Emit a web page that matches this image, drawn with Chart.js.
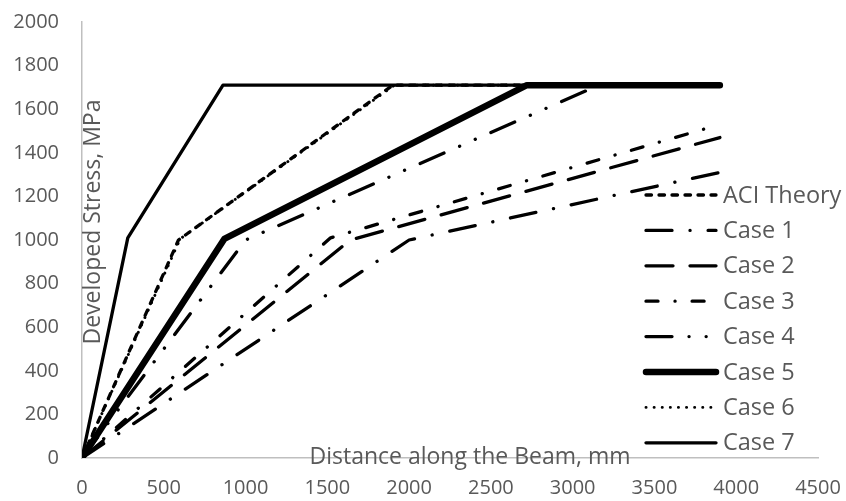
<!DOCTYPE html>
<html>
<head>
<meta charset="utf-8">
<script src="https://cdn.jsdelivr.net/npm/chart.js@4.4.0/dist/chart.umd.min.js"></script>
<style>
html,body{margin:0;padding:0;background:#fff;}
#wrap{width:846px;height:501px;position:relative;}
</style>
</head>
<body>
<div id="wrap"><canvas id="c" width="846" height="501"></canvas></div>
<script>
// ---- data ----
const seriesNames = ['ACI Theory', 'Case 1', 'Case 2', 'Case 3', 'Case 4', 'Case 5', 'Case 6', 'Case 7'];
const aciX   = [0, 590, 1900, 3900];
const aciY   = [0, 1000, 1710, 1710];
const case1X = [0, 2000, 3900];
const case1Y = [0, 1000, 1310];
const case2X = [0, 1640, 3900];
const case2Y = [0, 1000, 1470];
const case3X = [0, 1520, 3900];
const case3Y = [0, 1010, 1530];
const case4X = [0, 1000, 3160, 3900];
const case4Y = [0, 1000, 1710, 1710];
const case5X = [0, 870, 2720, 3900];
const case5Y = [0, 1005, 1710, 1710];
const case6X = [0, 600, 1910, 3900];
const case6Y = [0, 1005, 1710, 1710];
const case7X = [0, 280, 862, 3900];
const case7Y = [0, 1010, 1710, 1710];
const xTicks = [0, 500, 1000, 1500, 2000, 2500, 3000, 3500, 4000, 4500];
const yTicks = [0, 200, 400, 600, 800, 1000, 1200, 1400, 1600, 1800, 2000];
const xTitle = 'Distance along the Beam, mm';
const yTitle = 'Developed Stress, MPa';

// ---- styles ----
const seriesX = [aciX, case1X, case2X, case3X, case4X, case5X, case6X, case7X];
const seriesY = [aciY, case1Y, case2Y, case3Y, case4Y, case5Y, case6Y, case7Y];
const widths = [3.3, 3.3, 3.3, 3.3, 3.3, 6.5, 2.9, 3.3];
const dashes = [
  [5.5, 7.5],
  [26, 18, 0.1, 18],
  [27, 17],
  [12, 17, 0.1, 17],
  [26, 17, 0.1, 17, 0.1, 17],
  [],
  [0.1, 8],
  []
];

const toPts = (xs, ys) => xs.map((x, i) => ({x: x, y: ys[i]}));

const datasets = seriesNames.map((name, i) => ({
  label: name,
  data: toPts(seriesX[i], seriesY[i]),
  borderColor: '#000000',
  backgroundColor: '#000000',
  borderWidth: widths[i],
  borderDash: dashes[i],
  borderCapStyle: 'round',
  borderJoinStyle: 'round',
  pointRadius: 0,
  fill: false,
  tension: 0,
  showLine: true
}));

const TEXT = '#595959';
const FONT = '"Open Sans", "Noto Sans", sans-serif';

const overlay = {
  id: 'overlay',
  afterDraw(chart) {
    const ctx = chart.ctx;
    const ca = chart.chartArea;
    // axis titles
    ctx.save();
    ctx.fillStyle = TEXT;
    ctx.font = '23px ' + FONT;
    ctx.textAlign = 'center';
    ctx.textBaseline = 'middle';
    ctx.fillText(xTitle, ca.left + 388, ca.bottom - 1);
    ctx.translate(ca.left + 11, ca.top + 200);
    ctx.rotate(-Math.PI / 2);
    ctx.fillText(yTitle, 0, 0);
    ctx.restore();
    // legend
    chart.data.datasets.forEach((ds, i) => {
      const y = 195 + i * 35.4;
      ctx.save();
      ctx.strokeStyle = ds.borderColor;
      ctx.lineWidth = ds.borderWidth;
      ctx.lineCap = 'round';
      ctx.setLineDash(ds.borderDash || []);
      ctx.beginPath();
      ctx.moveTo(646, y);
      ctx.lineTo(716, y);
      ctx.stroke();
      ctx.setLineDash([]);
      ctx.fillStyle = TEXT;
      ctx.font = '23.5px ' + FONT;
      ctx.textAlign = 'left';
      ctx.textBaseline = 'middle';
      ctx.fillText(ds.label, 723, y + 1);
      ctx.restore();
    });
  }
};

const noPad = s => { s.paddingLeft = 0; s.paddingRight = 0; s.paddingTop = 0; s.paddingBottom = 0; };

new Chart(document.getElementById('c'), {
  type: 'scatter',
  data: { datasets: datasets },
  plugins: [overlay],
  options: {
    responsive: false,
    animation: false,
    layout: { padding: { left: 0, right: 28, top: 22, bottom: 0 } },
    plugins: { legend: { display: false }, tooltip: { enabled: false } },
    scales: {
      x: {
        type: 'linear', min: 0, max: 4500,
        afterBuildTicks: s => { s.ticks = xTicks.map(v => ({ value: v })); },
        afterFit: s => { s.height = 43; noPad(s); },
        grid: { display: false, drawTicks: false },
        border: { display: true, color: '#bfbfbf', width: 1.5 },
        ticks: { color: TEXT, font: { family: FONT, size: 20 }, padding: 18, maxRotation: 0, autoSkip: false, callback: v => String(v) }
      },
      y: {
        type: 'linear', min: 0, max: 2000,
        afterBuildTicks: s => { s.ticks = yTicks.map(v => ({ value: v })); },
        afterFit: s => { s.width = 82; noPad(s); },
        grid: { display: false, drawTicks: false },
        border: { display: true, color: '#bfbfbf', width: 1.5 },
        ticks: { color: TEXT, font: { family: FONT, size: 20 }, padding: 23, autoSkip: false, callback: v => String(v) }
      }
    }
  }
});
</script>
</body>
</html>
